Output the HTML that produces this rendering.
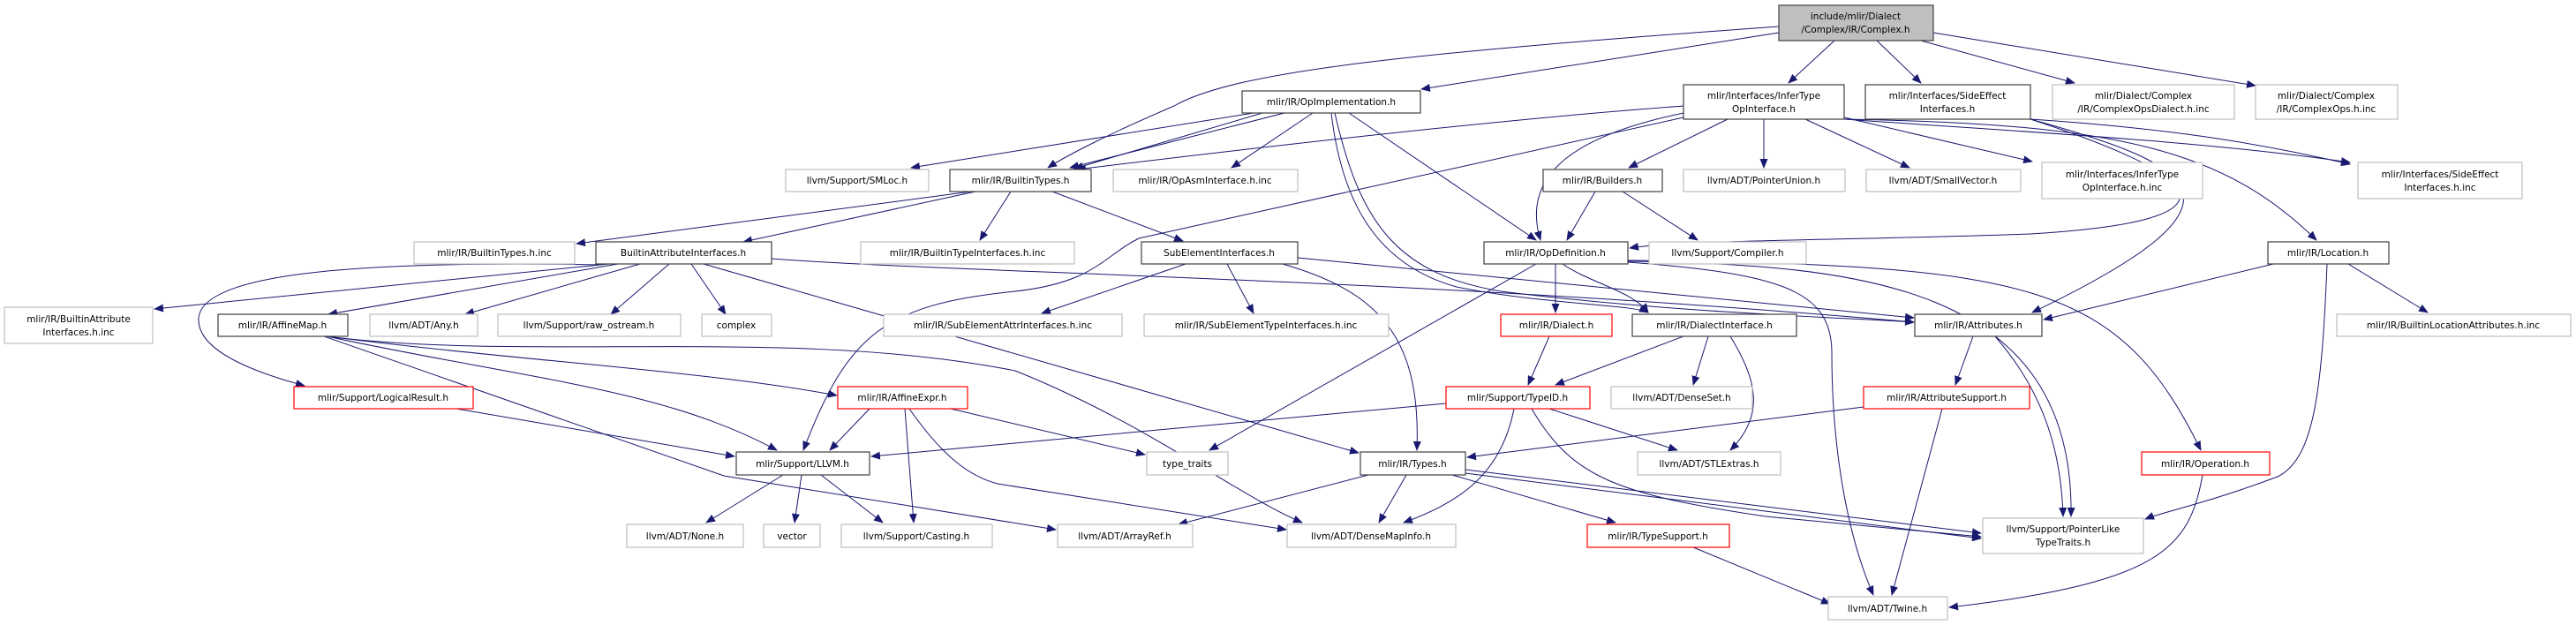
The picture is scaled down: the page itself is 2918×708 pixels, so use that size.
<!DOCTYPE html>
<html><head><meta charset="utf-8"><style>
html,body{margin:0;padding:0;background:#fff;}
svg{display:block;}
text{font-family:"DejaVu Sans","Liberation Sans",sans-serif;font-size:10.5px;fill:#000;text-anchor:middle;}
.g{fill:#fff;stroke:#bfbfbf;stroke-width:1.2;}
.b{fill:#fff;stroke:#404040;stroke-width:1.2;}
.r{fill:#fff;stroke:#ff0000;stroke-width:1.2;}
.t{fill:#bfbfbf;stroke:#404040;stroke-width:1.2;}
path{fill:none;stroke:#191970;stroke-width:1;marker-end:url(#a);}
</style></head><body>
<svg width="2918" height="708" viewBox="0 0 2918 708" xmlns="http://www.w3.org/2000/svg">
<defs><marker id="a" markerUnits="userSpaceOnUse" markerWidth="11" markerHeight="9" refX="10" refY="4.5" orient="auto"><polygon points="0,0 11,4.5 0,9" fill="#191970"/></marker></defs>
<g>
<path d="M2015,37 L1610,101"/>
<path d="M2015,30 C1600,60 1400,80 1330,120 C1260,150 1210,175 1187,190"/>
<path d="M2078,46 L2026,94"/>
<path d="M2126,46 L2176,94"/>
<path d="M2176,46 L2350,94"/>
<path d="M2190,37 L2555,97"/>
<path d="M1420,128 L1032,190"/>
<path d="M1455,128 L1212,190"/>
<path d="M1430,128 L1217,191"/>
<path d="M1487,128 L1395,190"/>
<path d="M1528,128 L1740,272"/>
<path d="M1512,128 C1540,250 1580,310 1700,330 C1900,355 2100,360 2168,365"/>
<path d="M1508,128 C1520,230 1560,300 1650,325 C1750,345 1850,345 1867,354"/>
<path d="M1907,120 C1700,135 1400,170 1220,192"/>
<path d="M1907,133 L1290,270 C1250,290 1240,320 1150,330 C1000,345 960,380 910,510"/>
<path d="M1907,128 C1800,150 1720,190 1745,272"/>
<path d="M1957,135 L1845,190"/>
<path d="M1998,135 L1998,190"/>
<path d="M2045,135 L2163,190"/>
<path d="M2089,133 L2302,183"/>
<path d="M2089,135 C2300,150 2500,160 2662,184"/>
<path d="M2089,135 C2400,140 2520,170 2624,272"/>
<path d="M2300,135 C2500,200 2550,250 2300,265 C2100,272 1900,272 1846,281"/>
<path d="M2300,135 C2450,145 2550,160 2662,186"/>
<path d="M2300,135 C2500,190 2560,230 2302,354"/>
<path d="M1100,217 L653,276"/>
<path d="M1105,217 L842,274"/>
<path d="M1145,217 L1110,272"/>
<path d="M1192,217 L1340,273"/>
<path d="M690,299 L175,350"/>
<path d="M700,299 L372,356"/>
<path d="M725,299 L527,356"/>
<path d="M758,299 L692,356"/>
<path d="M783,299 L822,356"/>
<path d="M680,300 C400,295 230,310 225,360 C222,400 300,425 345,437"/>
<path d="M797,299 L1539,513"/>
<path d="M874,293 C1100,310 1600,315 2168,365"/>
<path d="M1343,299 L1180,355"/>
<path d="M1390,299 L1420,355"/>
<path d="M1453,299 C1560,330 1610,380 1605,510"/>
<path d="M1470,292 L2168,360"/>
<path d="M1807,217 L1775,272"/>
<path d="M1838,217 L1923,272"/>
<path d="M1762,299 L1762,354"/>
<path d="M1740,299 L1370,510"/>
<path d="M1844,297 C2020,310 2075,330 2075,400 C2075,500 2090,600 2122,674"/>
<path d="M1844,296 C2100,300 2350,320 2346,585"/>
<path d="M1844,295 C2300,300 2400,320 2493,510"/>
<path d="M1770,299 C1800,320 1850,330 1867,354"/>
<path d="M2575,299 L2315,362"/>
<path d="M2636,299 C2630,450 2620,520 2580,540 C2500,570 2450,580 2430,588"/>
<path d="M2660,299 L2750,354"/>
<path d="M2235,381 L2215,436"/>
<path d="M2260,381 C2320,450 2335,520 2337,585"/>
<path d="M2111,461 L1662,518"/>
<path d="M2200,463 L2143,674"/>
<path d="M1755,381 L1731,436"/>
<path d="M1907,381 L1762,436"/>
<path d="M1935,381 L1918,436"/>
<path d="M1960,381 C1990,430 2000,470 1960,510"/>
<path d="M1638,457 L987,517"/>
<path d="M1715,463 C1700,540 1650,570 1590,592"/>
<path d="M1755,463 L1900,510"/>
<path d="M1735,463 C1780,540 1830,560 2000,585 L2244,608"/>
<path d="M370,381 C600,410 800,420 948,448"/>
<path d="M370,381 C600,430 750,440 880,510"/>
<path d="M370,381 C600,410 900,370 1150,420 C1300,480 1400,560 1475,592"/>
<path d="M367,381 L820,539 L1196,600"/>
<path d="M985,463 L940,510"/>
<path d="M1077,463 L1297,515"/>
<path d="M1025,463 L1035,592"/>
<path d="M1030,463 C1070,520 1100,540 1130,548 L1457,600"/>
<path d="M517,463 L832,517"/>
<path d="M887,538 L800,592"/>
<path d="M908,538 L900,592"/>
<path d="M930,538 L1000,592"/>
<path d="M1550,538 L1335,594"/>
<path d="M1593,538 L1562,592"/>
<path d="M1645,538 L1830,592"/>
<path d="M1660,532 L2244,604"/>
<path d="M1660,536 L2244,610"/>
<path d="M1918,620 L2073,684"/>
<path d="M2495,538 C2480,620 2450,660 2208,688"/>
</g>
<g>
<rect class="t" x="2015" y="6" width="175" height="40"/><text x="2102" y="22">include/mlir/Dialect</text><text x="2102" y="37">/Complex/IR/Complex.h</text>
<rect class="b" x="1407" y="103" width="202" height="25"/><text x="1508" y="119">mlir/IR/OpImplementation.h</text>
<rect class="b" x="1907" y="96" width="182" height="39"/><text x="1998" y="112">mlir/Interfaces/InferType</text><text x="1998" y="127">OpInterface.h</text>
<rect class="b" x="2113" y="96" width="187" height="39"/><text x="2206" y="112">mlir/Interfaces/SideEffect</text><text x="2206" y="127">Interfaces.h</text>
<rect class="g" x="2325" y="96" width="206" height="39"/><text x="2428" y="112">mlir/Dialect/Complex</text><text x="2428" y="127">/IR/ComplexOpsDialect.h.inc</text>
<rect class="g" x="2555" y="96" width="161" height="39"/><text x="2635" y="112">mlir/Dialect/Complex</text><text x="2635" y="127">/IR/ComplexOps.h.inc</text>
<rect class="g" x="890" y="192" width="162" height="25"/><text x="971" y="208">llvm/Support/SMLoc.h</text>
<rect class="b" x="1076" y="192" width="160" height="25"/><text x="1156" y="208">mlir/IR/BuiltinTypes.h</text>
<rect class="g" x="1261" y="192" width="209" height="25"/><text x="1365" y="208">mlir/IR/OpAsmInterface.h.inc</text>
<rect class="b" x="1748" y="192" width="135" height="25"/><text x="1815" y="208">mlir/IR/Builders.h</text>
<rect class="g" x="1907" y="192" width="183" height="25"/><text x="1998" y="208">llvm/ADT/PointerUnion.h</text>
<rect class="g" x="2114" y="192" width="175" height="25"/><text x="2201" y="208">llvm/ADT/SmallVector.h</text>
<rect class="g" x="2313" y="184" width="182" height="41"/><text x="2404" y="201">mlir/Interfaces/InferType</text><text x="2404" y="216">OpInterface.h.inc</text>
<rect class="g" x="2671" y="184" width="186" height="41"/><text x="2764" y="201">mlir/Interfaces/SideEffect</text><text x="2764" y="216">Interfaces.h.inc</text>
<rect class="g" x="469" y="274" width="182" height="25"/><text x="560" y="290">mlir/IR/BuiltinTypes.h.inc</text>
<rect class="b" x="675" y="274" width="199" height="25"/><text x="774" y="290">BuiltinAttributeInterfaces.h</text>
<rect class="g" x="975" y="274" width="242" height="25"/><text x="1096" y="290">mlir/IR/BuiltinTypeInterfaces.h.inc</text>
<rect class="b" x="1293" y="274" width="177" height="25"/><text x="1381" y="290">SubElementInterfaces.h</text>
<rect class="b" x="1681" y="274" width="163" height="25"/><text x="1762" y="290">mlir/IR/OpDefinition.h</text>
<rect class="g" x="1868" y="274" width="178" height="25"/><text x="1957" y="290">llvm/Support/Compiler.h</text>
<rect class="b" x="2569" y="274" width="137" height="25"/><text x="2637" y="290">mlir/IR/Location.h</text>
<rect class="g" x="5" y="348" width="168" height="41"/><text x="89" y="365">mlir/IR/BuiltinAttribute</text><text x="89" y="380">Interfaces.h.inc</text>
<rect class="b" x="247" y="356" width="147" height="25"/><text x="320" y="372">mlir/IR/AffineMap.h</text>
<rect class="g" x="419" y="356" width="122" height="25"/><text x="480" y="372">llvm/ADT/Any.h</text>
<rect class="g" x="564" y="356" width="207" height="25"/><text x="667" y="372">llvm/Support/raw_ostream.h</text>
<rect class="g" x="795" y="356" width="79" height="25"/><text x="834" y="372">complex</text>
<rect class="g" x="1001" y="356" width="270" height="25"/><text x="1136" y="372">mlir/IR/SubElementAttrInterfaces.h.inc</text>
<rect class="g" x="1296" y="356" width="277" height="25"/><text x="1434" y="372">mlir/IR/SubElementTypeInterfaces.h.inc</text>
<rect class="r" x="1700" y="356" width="126" height="25"/><text x="1763" y="372">mlir/IR/Dialect.h</text>
<rect class="b" x="1849" y="356" width="186" height="25"/><text x="1942" y="372">mlir/IR/DialectInterface.h</text>
<rect class="b" x="2169" y="356" width="144" height="25"/><text x="2241" y="372">mlir/IR/Attributes.h</text>
<rect class="g" x="2647" y="356" width="265" height="25"/><text x="2779" y="372">mlir/IR/BuiltinLocationAttributes.h.inc</text>
<rect class="r" x="333" y="438" width="203" height="25"/><text x="434" y="454">mlir/Support/LogicalResult.h</text>
<rect class="r" x="949" y="438" width="147" height="25"/><text x="1022" y="454">mlir/IR/AffineExpr.h</text>
<rect class="r" x="1638" y="438" width="163" height="25"/><text x="1719" y="454">mlir/Support/TypeID.h</text>
<rect class="g" x="1825" y="438" width="160" height="25"/><text x="1905" y="454">llvm/ADT/DenseSet.h</text>
<rect class="r" x="2111" y="438" width="188" height="25"/><text x="2205" y="454">mlir/IR/AttributeSupport.h</text>
<rect class="b" x="834" y="512" width="151" height="26"/><text x="909" y="529">mlir/Support/LLVM.h</text>
<rect class="g" x="1299" y="512" width="92" height="26"/><text x="1345" y="529">type_traits</text>
<rect class="b" x="1541" y="512" width="119" height="26"/><text x="1600" y="529">mlir/IR/Types.h</text>
<rect class="g" x="1855" y="512" width="162" height="26"/><text x="1936" y="529">llvm/ADT/STLExtras.h</text>
<rect class="r" x="2426" y="512" width="145" height="26"/><text x="2498" y="529">mlir/IR/Operation.h</text>
<rect class="g" x="710" y="594" width="132" height="26"/><text x="776" y="611">llvm/ADT/None.h</text>
<rect class="g" x="865" y="594" width="64" height="26"/><text x="897" y="611">vector</text>
<rect class="g" x="953" y="594" width="171" height="26"/><text x="1038" y="611">llvm/Support/Casting.h</text>
<rect class="g" x="1198" y="594" width="153" height="26"/><text x="1274" y="611">llvm/ADT/ArrayRef.h</text>
<rect class="g" x="1458" y="594" width="191" height="26"/><text x="1553" y="611">llvm/ADT/DenseMapInfo.h</text>
<rect class="r" x="1798" y="594" width="161" height="26"/><text x="1878" y="611">mlir/IR/TypeSupport.h</text>
<rect class="g" x="2246" y="587" width="182" height="40"/><text x="2337" y="603">llvm/Support/PointerLike</text><text x="2337" y="618">TypeTraits.h</text>
<rect class="g" x="2071" y="676" width="135" height="26"/><text x="2138" y="693">llvm/ADT/Twine.h</text>
</g>
</svg>
</body></html>
